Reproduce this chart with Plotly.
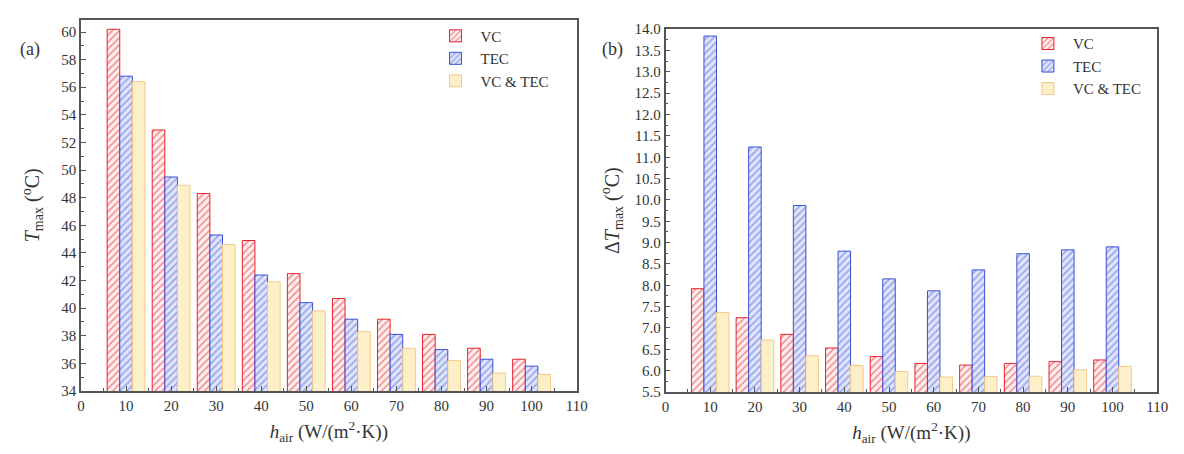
import plotly.graph_objects as go

h_air = [10, 20, 30, 40, 50, 60, 70, 80, 90, 100]

# Panel (a): maximum temperature (°C)
tmax_vc = [60.2, 52.9, 48.3, 44.9, 42.5, 40.7, 39.2, 38.1, 37.1, 36.3]
tmax_tec = [56.8, 49.5, 45.3, 42.4, 40.4, 39.2, 38.1, 37.0, 36.3, 35.8]
tmax_both = [56.4, 48.9, 44.6, 41.9, 39.8, 38.3, 37.1, 36.2, 35.3, 35.2]

# Panel (b): maximum temperature difference (°C)
dtmax_vc = [7.92, 7.24, 6.85, 6.53, 6.33, 6.17, 6.13, 6.17, 6.21, 6.25]
dtmax_tec = [13.84, 11.24, 9.87, 8.80, 8.15, 7.87, 8.36, 8.74, 8.83, 8.90]
dtmax_both = [7.36, 6.72, 6.35, 6.12, 5.98, 5.85, 5.86, 5.87, 6.02, 6.10]

labels = ["VC", "TEC", "VC & TEC"]

styles = [
    dict(line="#e8202a", fg="#e8202a", bg="#fff0f0", shape="/"),
    dict(line="#3a4fd8", fg="#4a5ed8", bg="#dfe4fb", shape="/"),
    dict(line="#f3c98a", fg="#fbe3a6", bg="#fdf0c8", shape=""),
]

FONT = "Liberation Serif"
fig = go.Figure()

def add_bars(ys, xaxis, yaxis, legend):
    for lab, y, st in zip(labels, ys, styles):
        fig.add_trace(go.Bar(
            x=h_air, y=y, name=lab, xaxis=xaxis, yaxis=yaxis, legend=legend,
            marker=dict(
                color=st["bg"],
                line=dict(color=st["line"], width=1),
                pattern=dict(shape=st["shape"], fgcolor=st["fg"], bgcolor=st["bg"],
                             size=5, solidity=0.3, fillmode="overlay"),
            ),
        ))

add_bars([tmax_vc, tmax_tec, tmax_both], "x", "y", "legend")
add_bars([dtmax_vc, dtmax_tec, dtmax_both], "x2", "y2", "legend2")

W, H = 1184, 454

axis_common = dict(
    showline=True, linecolor="#555", linewidth=1.5, mirror=True,
    ticks="inside", ticklen=5, tickcolor="#555", showgrid=False, zeroline=False,
    tickfont=dict(family=FONT, size=15, color="#333"),
)

xcommon = dict(axis_common, range=[0, 110], tickmode="array",
               tickvals=list(range(0, 111, 10)),
               minor=dict(ticks="inside", ticklen=3, tickcolor="#555", dtick=5),
               title=dict(text="<i>h</i><sub>air</sub> (W/(m<sup>2</sup>·K))",
                          font=dict(family=FONT, size=19, color="#333"), standoff=12))

fig.update_layout(
    width=W, height=H,
    margin=dict(l=0, r=0, t=0, b=0),
    paper_bgcolor="white", plot_bgcolor="white",
    barmode="group", bargap=0.16, bargroupgap=0,
    font=dict(family=FONT, color="#333"),
    xaxis=dict(xcommon, domain=[78 / W, 580 / W], anchor="y"),
    xaxis2=dict(xcommon, domain=[670 / W, 1168 / W], anchor="y2"),
    yaxis=dict(axis_common, domain=[1 - 397 / H, 1 - 12 / H], anchor="x",
               range=[34, 60.9], tickmode="array", tickvals=list(range(34, 61, 2)),
               minor=dict(ticks="inside", ticklen=3, tickcolor="#555", dtick=1),
               title=dict(text="<i>T</i><sub>max</sub> (<sup>o</sup>C)",
                          font=dict(family=FONT, size=20, color="#333"), standoff=16)),
    yaxis2=dict(axis_common, domain=[1 - 398 / H, 1 - 22 / H], anchor="x2",
                range=[5.5, 14.0], tickmode="array",
                tickvals=[5.5 + 0.5 * i for i in range(18)], tickformat=".1f",
                minor=dict(ticks="inside", ticklen=3, tickcolor="#555", dtick=0.25),
                title=dict(text="Δ<i>T</i><sub>max</sub> (<sup>o</sup>C)",
                           font=dict(family=FONT, size=20, color="#333"), standoff=10)),
    legend=dict(x=432 / W, y=1 - 12 / H, xanchor="left", yanchor="top",
                bgcolor="rgba(0,0,0,0)", font=dict(family=FONT, size=15, color="#333"),
                itemwidth=40, tracegroupgap=0),
    legend2=dict(x=1032 / W, y=1 - 20 / H, xanchor="left", yanchor="top",
                 bgcolor="rgba(0,0,0,0)", font=dict(family=FONT, size=15, color="#333"),
                 itemwidth=40, tracegroupgap=0),
    annotations=[
        dict(text="(a)", x=14 / W, y=1 - 30 / H, xref="paper", yref="paper",
             showarrow=False, xanchor="left", font=dict(family=FONT, size=18, color="#333")),
        dict(text="(b)", x=604 / W, y=1 - 30 / H, xref="paper", yref="paper",
             showarrow=False, xanchor="left", font=dict(family=FONT, size=18, color="#333")),
    ],
)

fig.write_html("out.html")
